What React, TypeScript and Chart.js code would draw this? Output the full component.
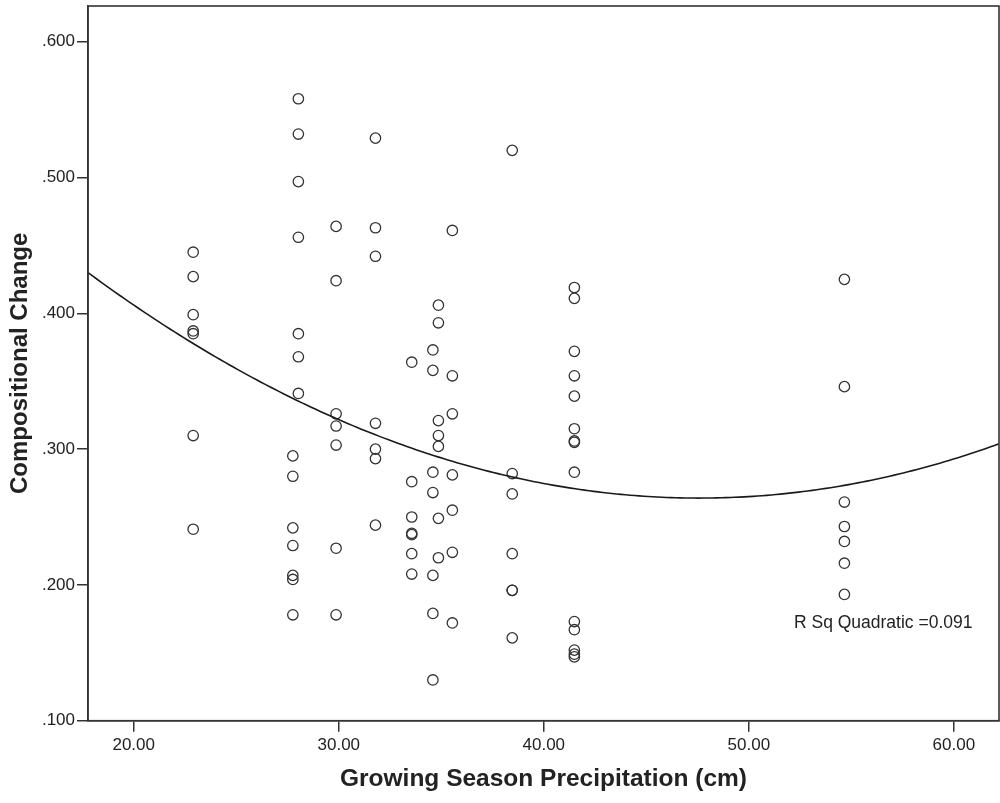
import React, { useEffect, useRef } from "react";
import { Chart, registerables } from "chart.js";

Chart.register(...registerables);

// Growing season precipitation (cm) for each site-sample
const precipitation: number[] = [
  22.9, 22.9, 22.9, 22.9, 22.9, 22.9, 22.9,
  28.03, 28.03, 28.03, 28.03, 28.03, 28.03, 28.03,
  27.76, 27.76, 27.76, 27.76, 27.76, 27.76, 27.76,
  29.87, 29.87, 29.87, 29.87, 29.87, 29.87, 29.87,
  31.79, 31.79, 31.79, 31.79, 31.79, 31.79, 31.79,
  33.56, 33.56, 33.56, 33.56, 33.56, 33.56, 33.56,
  34.59, 34.59, 34.59, 34.59, 34.59, 34.59, 34.59,
  34.86, 34.86, 34.86, 34.86, 34.86, 34.86, 34.86,
  35.54, 35.54, 35.54, 35.54, 35.54, 35.54, 35.54,
  38.46, 38.46, 38.46, 38.46, 38.46, 38.46, 38.46,
  41.49, 41.49, 41.49, 41.49, 41.49, 41.49, 41.49, 41.49, 41.49, 41.49, 41.49, 41.49, 41.49, 41.49,
  54.66, 54.66, 54.66, 54.66, 54.66, 54.66, 54.66,
];

// Compositional change for each point (same order)
const compositionalChange: number[] = [
  0.445, 0.427, 0.399, 0.387, 0.385, 0.31, 0.241,
  0.558, 0.532, 0.497, 0.456, 0.385, 0.368, 0.341,
  0.295, 0.28, 0.242, 0.229, 0.207, 0.204, 0.178,
  0.464, 0.424, 0.326, 0.317, 0.303, 0.227, 0.178,
  0.529, 0.463, 0.442, 0.319, 0.3, 0.293, 0.244,
  0.364, 0.276, 0.25, 0.238, 0.237, 0.223, 0.208,
  0.373, 0.358, 0.283, 0.268, 0.207, 0.179, 0.13,
  0.406, 0.393, 0.321, 0.31, 0.302, 0.249, 0.22,
  0.461, 0.354, 0.326, 0.281, 0.255, 0.224, 0.172,
  0.52, 0.282, 0.267, 0.223, 0.196, 0.196, 0.161,
  0.419, 0.411, 0.372, 0.354, 0.339, 0.315, 0.306, 0.305, 0.283, 0.173, 0.167, 0.152, 0.149, 0.147,
  0.425, 0.346, 0.261, 0.243, 0.232, 0.216, 0.193,
];

const xTicks: number[] = [20, 30, 40, 50, 60];
const yTicks: number[] = [0.1, 0.2, 0.3, 0.4, 0.5, 0.6];
const xRange: number[] = [17.77, 62.2];
const yRange: number[] = [0.1, 0.6263];

const xTitle = "Growing Season Precipitation (cm)";
const yTitle = "Compositional Change";
const fitLabel = "R Sq Quadratic =0.091";
const fitLabelAt: number[] = [52.2, 0.172];

// least-squares quadratic fit of the scatter data
function quadraticFit(xs: number[], ys: number[]): number[] {
  const S = [0, 0, 0, 0, 0];
  const T = [0, 0, 0];
  for (let i = 0; i < xs.length; i++) {
    const x = xs[i];
    const y = ys[i];
    let p = 1;
    for (let k = 0; k < 5; k++) {
      S[k] += p;
      if (k < 3) T[k] += p * y;
      p *= x;
    }
  }
  const M = [
    [S[0], S[1], S[2], T[0]],
    [S[1], S[2], S[3], T[1]],
    [S[2], S[3], S[4], T[2]],
  ];
  for (let c = 0; c < 3; c++) {
    let piv = c;
    for (let r = c + 1; r < 3; r++) if (Math.abs(M[r][c]) > Math.abs(M[piv][c])) piv = r;
    [M[c], M[piv]] = [M[piv], M[c]];
    for (let r = 0; r < 3; r++) {
      if (r === c) continue;
      const f = M[r][c] / M[c][c];
      for (let k = c; k < 4; k++) M[r][k] -= f * M[c][k];
    }
  }
  return [M[0][3] / M[0][0], M[1][3] / M[1][1], M[2][3] / M[2][2]];
}

const FONT = "'Liberation Sans', Arial, sans-serif";
const INK = "#222222";

export default function App() {
  const ref = useRef<HTMLCanvasElement | null>(null);

  useEffect(() => {
    const canvas = ref.current;
    if (!canvas) return;
    const [a0, a1, a2] = quadraticFit(precipitation, compositionalChange);
    const fitPts: { x: number; y: number }[] = [];
    const n = 200;
    for (let i = 0; i <= n; i++) {
      const x = xRange[0] + ((xRange[1] - xRange[0]) * i) / n;
      fitPts.push({ x, y: a0 + a1 * x + a2 * x * x });
    }
    const scatter = precipitation.map((x, i) => ({ x, y: compositionalChange[i] }));

    const framePlugin = {
      id: "frame",
      afterDraw(chart: any) {
        const { ctx, chartArea } = chart;
        ctx.save();
        ctx.strokeStyle = "#333333";
        ctx.lineWidth = 1.6;
        ctx.strokeRect(chartArea.left, chartArea.top, chartArea.right - chartArea.left, chartArea.bottom - chartArea.top);
        ctx.fillStyle = INK;
        ctx.font = `17.5px ${FONT}`;
        ctx.textAlign = "left";
        ctx.textBaseline = "middle";
        const xs = chart.scales.x;
        const ys = chart.scales.y;
        ctx.fillText(fitLabel, xs.getPixelForValue(fitLabelAt[0]), ys.getPixelForValue(fitLabelAt[1]));
        ctx.restore();
      },
    };

    const chart = new Chart(canvas, {
      type: "scatter",
      data: {
        datasets: [
          {
            type: "line",
            data: fitPts,
            borderColor: "#1a1a1a",
            borderWidth: 1.6,
            pointRadius: 0,
            fill: false,
            tension: 0,
          } as any,
          {
            data: scatter,
            pointRadius: 5.2,
            pointStyle: "circle",
            pointBorderWidth: 1.3,
            borderColor: "#333333",
            backgroundColor: "rgba(0,0,0,0)",
            pointBackgroundColor: "rgba(0,0,0,0)",
            pointBorderColor: "#333333",
          } as any,
        ],
      },
      options: {
        responsive: false,
        animation: false,
        layout: { autoPadding: false, padding: { top: 6, right: 1, left: 0, bottom: 0 } },
        plugins: { legend: { display: false }, tooltip: { enabled: false } },
        scales: {
          x: {
            type: "linear",
            min: xRange[0],
            max: xRange[1],
            afterBuildTicks: (s: any) => {
              s.ticks = xTicks.map((v) => ({ value: v }));
            },
            afterFit: (s: any) => {
              s.height = 82.3;
              s.paddingLeft = 0;
              s.paddingRight = 0;
              s.paddingTop = 0;
              s.paddingBottom = 0;
            },
            border: { display: true, color: "#333333", width: 1.6 },
            grid: { display: true, drawOnChartArea: false, drawTicks: true, tickLength: 11, color: "#333333", lineWidth: 1.5 },
            ticks: {
              padding: 3,
              color: INK,
              font: { family: FONT, size: 17 },
              maxRotation: 0,
              callback: (v: any) => Number(v).toFixed(2),
            },
            title: {
              display: true,
              text: xTitle,
              color: INK,
              font: { family: FONT, size: 24.5, weight: "bold" },
              padding: { top: 0, bottom: 9 },
            },
          },
          y: {
            type: "linear",
            min: yRange[0],
            max: yRange[1],
            afterBuildTicks: (s: any) => {
              s.ticks = yTicks.map((v) => ({ value: v }));
            },
            afterFit: (s: any) => {
              s.width = 88;
              s.paddingLeft = 0;
              s.paddingRight = 0;
              s.paddingTop = 0;
              s.paddingBottom = 0;
            },
            border: { display: true, color: "#333333", width: 1.6 },
            grid: { display: true, drawOnChartArea: false, drawTicks: true, tickLength: 11, color: "#333333", lineWidth: 1.5 },
            ticks: {
              padding: 2,
              color: INK,
              font: { family: FONT, size: 17 },
              callback: (v: any) => Number(v).toFixed(3).replace(/^0/, ""),
            },
            title: {
              display: true,
              text: yTitle,
              color: INK,
              font: { family: FONT, size: 24, weight: "bold" },
              padding: { top: 6, bottom: 0 },
            },
          },
        },
      },
      plugins: [framePlugin],
    });
    return () => chart.destroy();
  }, []);

  return (
    <div style={{ position: "fixed", left: 0, top: 0, width: 1000, height: 803, background: "#fff" }}>
      <canvas ref={ref} width={1000} height={803} style={{ display: "block" }} />
    </div>
  );
}
